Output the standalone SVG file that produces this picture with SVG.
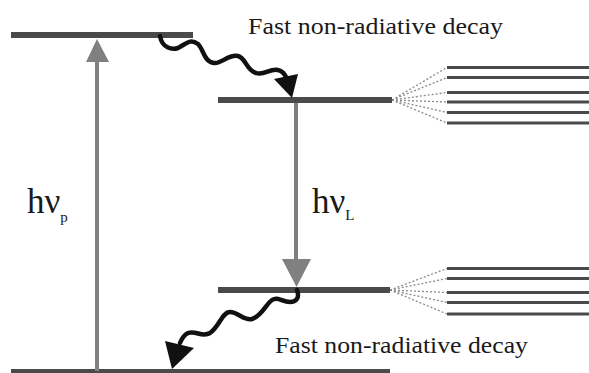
<svg xmlns="http://www.w3.org/2000/svg" width="589" height="373" viewBox="0 0 589 373">
<style>
.lvl{stroke:#4a4a4a;stroke-width:6;fill:none}
.sub{stroke:#4a4a4a;stroke-width:3;fill:none}
.dot{stroke:#8a8a8a;stroke-width:1.3;stroke-dasharray:2 2;fill:none}
.rad{stroke:#808080;stroke-width:4;fill:none}
.radh{fill:#808080}
.wave{stroke:#111;stroke-width:4.5;fill:none;stroke-linecap:round}
.waveh{fill:#111}
.lbl{font-family:"Liberation Serif","Times New Roman",serif;fill:#1a1a1a}
</style>
<rect width="589" height="373" fill="#fff"/>
<g id="level-top"><line class="lvl" x1="11" y1="35" x2="193" y2="35"/></g>
<g id="level-upper"><line class="lvl" x1="218" y1="100" x2="392" y2="100"/></g>
<g id="level-lower"><line class="lvl" x1="218" y1="290" x2="390" y2="290"/></g>
<g id="level-ground"><line class="lvl" x1="11" y1="371" x2="390" y2="371" style="stroke-width:4"/></g>
<g id="manifold-upper">
<line class="sub" x1="447" y1="67.5" x2="589" y2="67.5"/>
<line class="sub" x1="447" y1="77.5" x2="589" y2="77.5"/>
<line class="sub" x1="447" y1="92.5" x2="589" y2="92.5"/>
<line class="sub" x1="447" y1="102" x2="589" y2="102"/>
<line class="sub" x1="447" y1="112.5" x2="589" y2="112.5"/>
<line class="sub" x1="447" y1="123" x2="589" y2="123"/>
</g>
<g id="manifold-lower">
<line class="sub" x1="447" y1="268.5" x2="589" y2="268.5"/>
<line class="sub" x1="447" y1="278.5" x2="589" y2="278.5"/>
<line class="sub" x1="447" y1="292.5" x2="589" y2="292.5"/>
<line class="sub" x1="447" y1="302.5" x2="589" y2="302.5"/>
<line class="sub" x1="447" y1="314" x2="589" y2="314"/>
</g>
<g id="connectors">
<line class="dot" x1="392" y1="100" x2="447" y2="67.5"/>
<line class="dot" x1="392" y1="100" x2="447" y2="77.5"/>
<line class="dot" x1="392" y1="100" x2="447" y2="92.5"/>
<line class="dot" x1="392" y1="100" x2="447" y2="102"/>
<line class="dot" x1="392" y1="100" x2="447" y2="112.5"/>
<line class="dot" x1="392" y1="100" x2="447" y2="123"/>
<line class="dot" x1="390" y1="290" x2="447" y2="268.5"/>
<line class="dot" x1="390" y1="290" x2="447" y2="278.5"/>
<line class="dot" x1="390" y1="290" x2="447" y2="292.5"/>
<line class="dot" x1="390" y1="290" x2="447" y2="302.5"/>
<line class="dot" x1="390" y1="290" x2="447" y2="314"/>
<line class="rad" x1="97" y1="371" x2="97" y2="58"/>
<polygon class="radh" points="97,39 86,62 109,62"/>
<line class="rad" x1="296" y1="103" x2="296" y2="262"/>
<polygon class="radh" points="282,259 311,259 296.5,287"/>
<path class="wave" d="M160,36 C162,48 172,50 178,48 C186,44 190,38 198,44 C204,50 204,62 214,63 C222,64 228,54 238,56 C246,58 246,70 256,73 C264,76 270,68 278,70 C283,71 285,74 287,79"/>
<polygon class="waveh" points="274,79 298,74 292,98"/>
<path class="wave" d="M297,290 C300,298 296,302 290,302 C282,302 278,296 272,300 C266,304 262,316 252,319 C244,321 238,312 230,312 C222,312 220,326 210,333 C202,338 196,330 188,333 C184,335 182,338 180,343"/>
<polygon class="waveh" points="165,341 194,348 172,369"/>
</g>
<g id="labels">
<text class="lbl" x="248" y="34" font-size="23" textLength="255" lengthAdjust="spacingAndGlyphs">Fast non-radiative decay</text>
<text class="lbl" x="275" y="353" font-size="23" textLength="253" lengthAdjust="spacingAndGlyphs">Fast non-radiative decay</text>
<text class="lbl" x="27" y="213" font-size="35">hν<tspan font-size="15" dy="9">p</tspan></text>
<text class="lbl" x="312" y="213" font-size="35">hν<tspan font-size="15" dy="7">L</tspan></text>
</g>
</svg>
